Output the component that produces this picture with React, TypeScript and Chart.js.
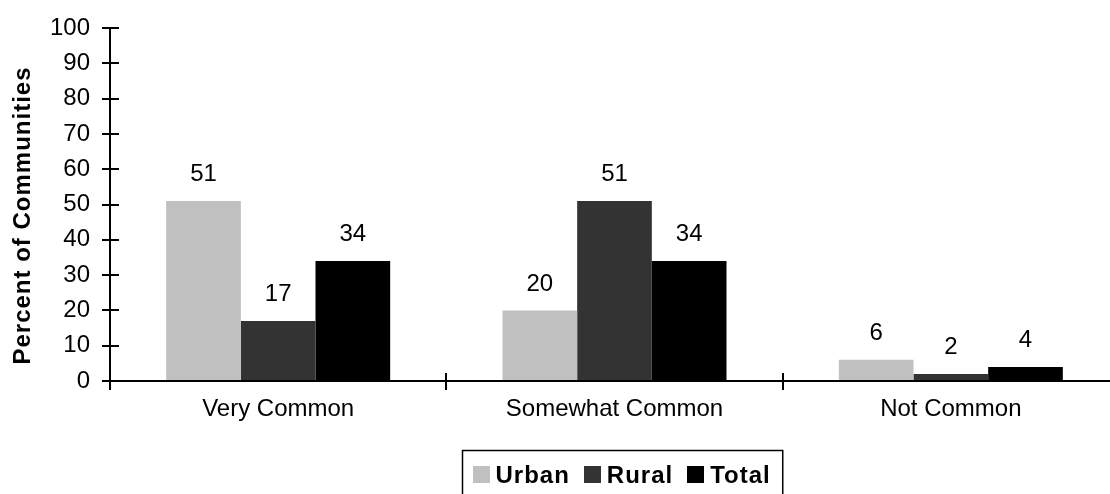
import React, { useEffect, useRef } from "react";
import { Chart, registerables } from "chart.js";

Chart.register(...registerables);

const categories = ["Very Common", "Somewhat Common", "Not Common"];
const seriesNames = ["Urban", "Rural", "Total"];
const urbanValues = [51, 20, 6];
const ruralValues = [17, 51, 2];
const totalValues = [34, 34, 4];
const seriesColors = ["#c0c0c0", "#333333", "#000000"];
const yMin = 0;
const yMax = 100;
const yStep = 10;
const yTitle = "Percent of Communities";

const FONT = '"Liberation Sans", Arial, Helvetica, sans-serif';

const innerTicksPlugin = {
  id: "innerTicks",
  afterDraw(chart: any) {
    const ctx = chart.ctx;
    const x = chart.scales.x;
    const y = chart.scales.y;
    const area = chart.chartArea;
    ctx.save();
    ctx.strokeStyle = "#000";
    ctx.lineWidth = 2;
    ctx.beginPath();
    // inner part of y ticks
    y.ticks.forEach((t: any) => {
      const py = Math.round(y.getPixelForValue(t.value));
      ctx.moveTo(area.left, py);
      ctx.lineTo(area.left + 9, py);
    });
    // inner part of x category boundary ticks
    const n = chart.data.labels.length;
    for (let i = 0; i <= n; i++) {
      const px = Math.round(x.getPixelForValue(i - 0.5));
      ctx.moveTo(px, area.bottom);
      ctx.lineTo(px, area.bottom - 8);
    }
    ctx.stroke();
    ctx.restore();
  },
};

const dataLabelsPlugin = {
  id: "dataLabels",
  afterDatasetsDraw(chart: any) {
    const ctx = chart.ctx;
    ctx.save();
    ctx.font = `24px ${FONT}`;
    ctx.fillStyle = "#000";
    ctx.textAlign = "center";
    ctx.textBaseline = "alphabetic";
    chart.data.datasets.forEach((ds: any, di: number) => {
      const meta = chart.getDatasetMeta(di);
      meta.data.forEach((el: any, i: number) => {
        ctx.fillText(String(ds.data[i]), el.x, el.y - 19.5);
      });
    });
    ctx.restore();
  },
};

const titleAndLegendPlugin = {
  id: "titleAndLegend",
  afterDraw(chart: any) {
    const ctx = chart.ctx;
    const area = chart.chartArea;
    ctx.save();
    // y-axis title
    ctx.font = `bold 24px ${FONT}`;
    (ctx as any).letterSpacing = "1px";
    ctx.fillStyle = "#000";
    ctx.textAlign = "center";
    ctx.textBaseline = "middle";
    ctx.translate(23, (area.top + area.bottom) / 2 + 11);
    ctx.rotate(-Math.PI / 2);
    ctx.fillText(yTitle, 0, 0);
    ctx.restore();

    // boxed legend
    ctx.save();
    ctx.font = `bold 24px ${FONT}`;
    (ctx as any).letterSpacing = "1px";
    const ds = chart.data.datasets;
    const sw = 17;
    const gapT = 6;
    const gapItem = 14;
    const padL = 10;
    const padR = 12;
    const widths = ds.map((d: any) => ctx.measureText(d.label).width);
    const total =
      padL +
      padR +
      widths.reduce((a: number, b: number) => a + b, 0) +
      ds.length * (sw + gapT) +
      (ds.length - 1) * gapItem;
    const cx = (area.left + area.right) / 2 + 8;
    const left = Math.round(cx - total / 2) + 0.5;
    const top = area.bottom + 69.5;
    ctx.strokeStyle = "#000";
    ctx.lineWidth = 1.5;
    ctx.strokeRect(left, top, total, 100);
    const base = area.bottom + 102;
    let x = left + padL;
    ctx.textAlign = "left";
    ctx.textBaseline = "alphabetic";
    ds.forEach((d: any, i: number) => {
      ctx.fillStyle = d.backgroundColor;
      ctx.fillRect(Math.round(x), base - 17, sw, sw);
      x += sw + gapT;
      ctx.fillStyle = "#000";
      ctx.fillText(d.label, x, base);
      x += widths[i] + gapItem;
    });
    ctx.restore();
  },
};

export default function App() {
  const canvasRef = useRef<HTMLCanvasElement | null>(null);

  useEffect(() => {
    const canvas = canvasRef.current;
    if (!canvas) return;
    const valueLists = [urbanValues, ruralValues, totalValues];
    const chart = new Chart(canvas, {
      type: "bar",
      data: {
        labels: categories,
        datasets: seriesNames.map((name, i) => ({
          label: name,
          data: valueLists[i],
          backgroundColor: seriesColors[i],
          borderWidth: 0,
          barPercentage: 1,
          categoryPercentage: 0.666,
        })),
      },
      options: {
        responsive: false,
        animation: false,
        devicePixelRatio: 1,
        layout: { padding: { left: 0, right: 11, top: 28, bottom: 0 } },
        plugins: {
          legend: { display: false },
          tooltip: { enabled: false },
          title: { display: false },
        },
        scales: {
          x: {
            offset: true,
            grid: {
              offset: true,
              drawOnChartArea: false,
              drawTicks: true,
              tickLength: 9,
              color: "#000",
              lineWidth: 2,
            },
            border: { display: true, color: "#000", width: 2 },
            ticks: {
              color: "#000",
              font: { family: FONT, size: 24 },
              padding: 5,
              maxRotation: 0,
              autoSkip: false,
            },
            afterFit: (s: any) => {
              s.height = 113;
            },
          },
          y: {
            min: yMin,
            max: yMax,
            grid: {
              drawOnChartArea: false,
              drawTicks: true,
              tickLength: 8,
              color: "#000",
              lineWidth: 2,
            },
            border: { display: true, color: "#000", width: 2 },
            ticks: {
              stepSize: yStep,
              color: "#000",
              font: { family: FONT, size: 24 },
              padding: 12,
            },
            afterFit: (s: any) => {
              s.width = 110;
            },
          },
        },
      },
      plugins: [innerTicksPlugin, dataLabelsPlugin, titleAndLegendPlugin],
    });
    return () => chart.destroy();
  }, []);

  return (
    <div
      style={{
        position: "fixed",
        left: 0,
        top: 0,
        width: 1110,
        height: 494,
        overflow: "hidden",
        background: "#fff",
      }}
    >
      <canvas
        ref={canvasRef}
        width={1130}
        height={494}
        style={{ display: "block", width: 1130, height: 494 }}
      />
    </div>
  );
}
